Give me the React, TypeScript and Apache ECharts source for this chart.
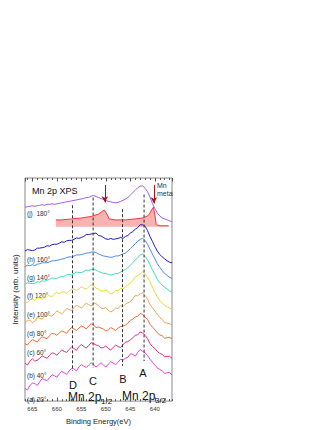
import React, { useEffect, useRef } from "react";
import * as echarts from "echarts";

// Binding energy grid (eV), 0.5 eV steps
const energies = [666.5, 666, 665.5, 665, 664.5, 664, 663.5, 663, 662.5, 662, 661.5, 661, 660.5, 660, 659.5, 659, 658.5, 658, 657.5, 657, 656.5, 656, 655.5, 655, 654.5, 654, 653.5, 653, 652.5, 652, 651.5, 651, 650.5, 650, 649.5, 649, 648.5, 648, 647.5, 647, 646.5, 646, 645.5, 645, 644.5, 644, 643.5, 643, 642.5, 642, 641.5, 641, 640.5, 640, 639.5, 639, 638.5, 638, 637.5, 637, 636.5];

// Offset spectra (arb. units)
const spectrumJ = [199, 199.5, 200, 200.5, 200, 200.5, 201, 201.5, 201, 202, 202, 202.5, 202, 202.5, 203, 203.5, 204, 204.5, 205, 205.5, 206, 206.5, 207, 207.5, 208, 209, 209, 210.5, 211, 210, 209, 208, 207, 206, 205, 204.5, 204, 203.5, 204, 205, 206, 207.5, 209, 211.5, 214, 216.5, 219, 220.5, 221, 218.5, 215, 209.5, 203, 197.5, 193, 190, 188, 187, 186, 185, 184];
const spectrumH = [154, 155.5, 155, 154.5, 155, 157, 157, 157.5, 158, 159.5, 159, 160.5, 161, 161, 162, 163.5, 163, 164.5, 165, 165, 166, 167.5, 167, 168, 169, 171, 171, 171.5, 172, 172.5, 170, 169.5, 168, 166.5, 166, 167, 166, 166.5, 167, 168, 167, 169, 170, 172.5, 174, 176.5, 178, 181, 181, 179.5, 175, 169, 164, 158.5, 154, 150.5, 148, 146, 144, 142.5, 142];
const spectrumG = [138, 139.5, 139, 140, 139, 140.5, 141, 142, 142, 142, 143, 144, 144, 144.5, 145, 146, 146, 147.5, 148, 148, 149, 150, 150, 150.5, 151, 152, 152, 153, 153, 152.5, 151, 150, 149, 148.5, 148, 147.5, 148, 149, 149, 150, 151, 152, 154, 156.5, 159, 161.5, 164, 166, 167, 165, 161, 156, 151, 146, 141, 137.5, 134, 131, 129, 127, 126];
const spectrumF = [120, 121.5, 121, 120.5, 121, 122.5, 122, 123.5, 123, 124, 125, 126.5, 126, 126, 127, 128, 128, 129.5, 130, 129.5, 131, 132.5, 132, 132, 133, 134.5, 134, 135, 135, 134.5, 133, 132, 131, 131, 130, 129.5, 130, 131, 131, 132.5, 134, 135, 137, 139.5, 142, 145, 147, 150, 151, 148.5, 145, 140, 135, 130, 125, 121.5, 119, 117, 115, 113, 112];
const spectrumE = [102, 101, 104, 105.5, 103, 106, 106, 104.5, 107, 109.5, 108, 107, 110, 111.5, 110, 112, 112, 110.5, 113, 115, 115, 113.5, 115, 117.5, 116, 115, 117, 119.5, 118, 116, 115, 113, 113, 114.5, 112, 110, 111, 114, 113, 116, 115, 117.5, 119, 121, 124, 127.5, 129, 130.5, 133, 130, 127, 122.5, 117, 112, 107, 103, 101, 98, 97, 95.5, 94];
const spectrumD = [80, 83, 83, 80.5, 82, 86, 85, 84, 87, 89.5, 88, 87, 90, 92.5, 91, 89.5, 92, 95, 94, 93, 96, 98.5, 97, 95.5, 98, 100.5, 99, 97.5, 101, 100, 98, 95.5, 95, 96, 93, 91.5, 93, 95.5, 95, 98, 97, 99.5, 101, 102, 105, 108.5, 108, 110, 111, 108.5, 105, 99, 96, 92.5, 89, 86, 84, 80.5, 80, 79.5, 78];
const spectrumC = [59, 57.5, 61, 63, 62, 60.5, 64, 66, 65, 64, 67, 69.5, 69, 67.5, 70, 72, 71, 69.5, 73, 75.5, 74, 72.5, 75, 77, 76, 74, 77, 79.5, 78, 75.5, 76, 75, 74, 72, 73, 75.5, 74, 72.5, 75, 76.5, 77, 78, 80, 83, 84, 86.5, 87, 90, 89, 86, 84, 79, 76, 73.5, 70, 68, 67, 64.5, 65, 65.5, 64];
const spectrumB = [39, 37, 41, 43.5, 41, 42, 44, 46.5, 45, 44, 47, 49.5, 49, 47, 50, 52.5, 51, 50, 53, 55.5, 54, 52, 56, 58, 56, 54.5, 57, 60, 59, 57.5, 57, 54.5, 55, 56.5, 54, 52.5, 55, 57.5, 56, 55, 58, 60.5, 61, 63, 65, 67.5, 68, 71, 70, 67.5, 64, 59, 56, 54, 51, 49, 48, 45.5, 46, 46, 44];
const spectrumA = [13, 11.5, 16, 18.5, 18, 16, 20, 23, 22, 21, 24, 27, 26, 24.5, 28, 30.5, 29, 27.5, 31, 33.5, 33, 31, 35, 37.5, 36, 34.5, 37, 39.5, 37, 35, 37, 39.5, 37, 35, 38, 40.5, 39, 37.5, 40, 43, 42, 44, 45, 48.5, 48, 46, 50, 53, 51, 49.5, 47, 43, 40, 37, 34, 32.5, 31, 28.5, 29, 29.5, 27];

const spectra = [spectrumJ, spectrumH, spectrumG, spectrumF, spectrumE, spectrumD, spectrumC, spectrumB, spectrumA];
const spectrumLabels = ["(j)  180°", "(h) 160°", "(g) 140°", "(f) 120°", "(e) 100°", "(d) 80°", "(c) 60°", "(b) 40°", "(a) 20°"];
const spectrumColors = ["#a05cf0", "#1a1ac8", "#4a8cf0", "#3fe0b4", "#e2e030", "#f2a456", "#f06a3a", "#e8306e", "#e040e0"];

// Mn metal reference
const metalEnergy = [660.2, 659, 657, 655, 653, 651.5, 650.8, 650.3, 649.8, 649.3, 648, 646, 644, 642.5, 641.5, 641, 640.6, 640.3, 640.0, 639.7, 639, 637.2];
const metalIntensity = [186, 186, 187, 188, 189.5, 192, 194.5, 196, 192, 187, 186, 186, 187, 188, 190, 193, 197, 199, 191, 181, 180, 180];
const metalBase = 179;

// Peak markers D, C, B, A
const markerNames = ["D", "C", "B", "A"];
const markerEnergy = [656.8, 652.6, 646.6, 642.2];
const markerTop = [201, 209, 197, 212];
const markerBottom = [31, 34, 36, 41];

// Red arrows
const arrowEnergy = [650.2, 640.2];
const arrowTop = [222, 222];
const arrowBottom = [204, 203];

const FONT = "Liberation Sans, Arial, sans-serif";

export default function App() {
  const ref = useRef<HTMLDivElement>(null);
  useEffect(() => {
    const chart = echarts.init(ref.current!, null, { renderer: "svg" });

    const xBase = {
      type: "value" as const,
      min: 636.5,
      max: 666.5,
      inverse: true,
      axisLine: { show: false },
      splitLine: { show: false },
    };

    const series: any[] = [];
    spectra.forEach((vals, i) => {
      series.push({
        type: "line",
        name: spectrumLabels[i],
        data: energies.map((e, k) => [e, vals[k]]),
        showSymbol: false,
        symbol: "none",
        lineStyle: { color: spectrumColors[i], width: 1 },
        z: 3,
      });
    });

    series.push({
      type: "line",
      name: "Mn metal",
      data: metalEnergy.map((e, k) => [e, metalIntensity[k]]),
      symbol: "none",
      lineStyle: { color: "#f03c3c", width: 1 },
      areaStyle: { color: "#f9b2b2", opacity: 1, origin: metalBase },
      z: 2,
      markLine: {
        silent: true,
        symbol: ["none", "arrow"],
        symbolSize: [5, 6],
        label: { show: false },
        lineStyle: { color: "#a51515", type: "solid", width: 1 },
        data: arrowEnergy.map((e, k) => [
          { coord: [e, arrowTop[k]] },
          { coord: [e, arrowBottom[k]] },
        ]),
      },
    });

    markerEnergy.forEach((e, k) => {
      series.push({
        type: "line",
        name: "marker " + markerNames[k],
        data: [
          [e, markerTop[k]],
          [e, markerBottom[k]],
        ],
        symbol: "none",
        lineStyle: { color: "#333", width: 1, type: [3, 2] },
        z: 4,
      });
    });

    const graphics: any[] = [];
    const labelY = [213, 259, 277, 295, 314, 333, 352, 375, 399];
    spectrumLabels.forEach((t, i) => {
      graphics.push({
        type: "text",
        x: 27,
        y: labelY[i],
        style: { text: t, fontSize: 6.5, fill: "#333", fontFamily: FONT, verticalAlign: "middle", align: "left" },
      });
    });
    const letterX = [73, 93, 123, 143];
    const letterY = [385, 381, 379, 373];
    markerNames.forEach((t, i) => {
      graphics.push({
        type: "text",
        x: letterX[i],
        y: letterY[i],
        style: { text: t, fontSize: 11, fill: "#111", fontFamily: FONT, verticalAlign: "middle", align: "center" },
      });
    });
    graphics.push(
      { type: "text", x: 68, y: 396.5, style: { text: "Mn 2p", fontSize: 12, fill: "#111", fontFamily: FONT, verticalAlign: "middle" } },
      { type: "text", x: 101, y: 401.5, style: { text: "1/2", fontSize: 8, fill: "#111", fontFamily: FONT, verticalAlign: "middle" } },
      { type: "text", x: 122, y: 395.5, style: { text: "Mn 2p", fontSize: 12, fill: "#111", fontFamily: FONT, verticalAlign: "middle" } },
      { type: "text", x: 155, y: 400, style: { text: "3/2", fontSize: 8, fill: "#111", fontFamily: FONT, verticalAlign: "middle" } },
      { type: "text", x: 32, y: 191, style: { text: "Mn 2p XPS", fontSize: 9, fill: "#111", fontFamily: FONT, verticalAlign: "middle" } },
      { type: "text", x: 157, y: 185, style: { text: "Mn", fontSize: 7, fill: "#333", fontFamily: FONT, verticalAlign: "middle" } },
      { type: "text", x: 157, y: 193.5, style: { text: "metal", fontSize: 7, fill: "#333", fontFamily: FONT, verticalAlign: "middle" } },
      { type: "rect", shape: { x: 173, y: 179, width: 20, height: 20 }, style: { fill: "#fff" }, z: 100 }
    );

    const option: any = {
      animation: false,
      backgroundColor: "#fff",
      textStyle: { fontFamily: FONT },
      grid: {
        left: 25,
        right: 160,
        top: 178,
        bottom: 23,
        show: true,
        borderColor: "#888",
        borderWidth: 1,
        backgroundColor: "transparent",
      },
      xAxis: [
        {
          ...xBase,
          position: "bottom",
          splitNumber: 6,
          axisTick: { show: true, inside: true, length: 3.5, lineStyle: { color: "#555" } },
          axisLabel: {
            show: true,
            fontSize: 6,
            color: "#333",
            margin: 5,
            showMinLabel: false,
            showMaxLabel: false,
            fontFamily: FONT,
          },
          name: "Binding Energy(eV)",
          nameLocation: "middle",
          nameGap: 14,
          nameTextStyle: { fontSize: 7.5, color: "#222", fontFamily: FONT },
        },
        {
          ...xBase,
          position: "bottom",
          splitNumber: 30,
          axisTick: { show: true, inside: true, length: 2, lineStyle: { color: "#555" } },
          axisLabel: { show: false },
        },
        {
          ...xBase,
          position: "top",
          splitNumber: 6,
          axisTick: { show: true, inside: true, length: 3.5, lineStyle: { color: "#555" } },
          axisLabel: { show: false },
        },
        {
          ...xBase,
          position: "top",
          splitNumber: 30,
          axisTick: { show: true, inside: true, length: 2, lineStyle: { color: "#555" } },
          axisLabel: { show: false },
        },
      ],
      yAxis: {
        type: "value",
        min: 0,
        max: 229,
        axisLine: { show: false },
        axisTick: { show: false },
        axisLabel: { show: false },
        splitLine: { show: false },
        name: "Intensity (arb. units)",
        nameLocation: "middle",
        nameGap: 6,
        nameTextStyle: { fontSize: 8, color: "#222", fontFamily: FONT },
      },
      series,
      graphic: graphics,
    };

    chart.setOption(option);
    return () => chart.dispose();
  }, []);

  return <div ref={ref} style={{ position: "absolute", left: 0, top: 0, width: 332, height: 430 }} />;
}
